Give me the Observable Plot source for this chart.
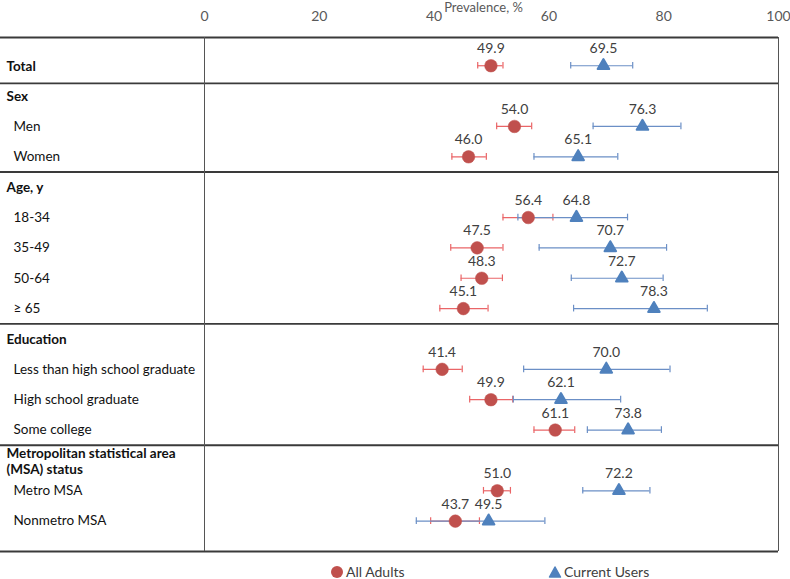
<!DOCTYPE html>
<html>
<head>
<meta charset="utf-8">
<script src="https://cdn.jsdelivr.net/npm/d3@7"></script>
<script src="https://cdn.jsdelivr.net/npm/@observablehq/plot@0.6"></script>
<style>
  html, body { margin: 0; padding: 0; background: #fff; }
  body { width: 790px; height: 579px; overflow: hidden; font-family: Lato, "Open Sans", sans-serif; }
  #legend { position: relative; width: 790px; height: 23px; font-size: 14px; color: #404040; }
  .item { position: absolute; top: 7px; display: flex; align-items: center; gap: 2px; }
  .item svg { display: block; }
</style>
</head>
<body>
<div id="chart"></div>
<div id="legend"></div>
<script>
// Row labels (level 0 = group header, 1 = subgroup)
const rowLabels = [
  "Total", "Sex", "Men", "Women", "Age, y", "18-34", "35-49", "50-64", "≥ 65",
  "Education", "Less than high school graduate", "High school graduate", "Some college",
  "Metropolitan statistical area\n(MSA) status", "Metro MSA", "Nonmetro MSA"
];
const rowLevel = [0, 0, 1, 1, 0, 1, 1, 1, 1, 0, 1, 1, 1, 0, 1, 1];

// All adults: estimate and 95% CI
const allAdults   = [49.9, null, 54.0, 46.0, null, 56.4, 47.5, 48.3, 45.1, null, 41.4, 49.9, 61.1, null, 51.0, 43.7];
const allAdultsLo = [47.6, null, 50.9, 43.1, null, 52.0, 42.9, 44.7, 41.0, null, 38.1, 46.2, 57.4, null, 48.6, 39.4];
const allAdultsHi = [52.0, null, 57.0, 49.1, null, 60.7, 52.0, 51.9, 49.4, null, 44.9, 53.7, 64.5, null, 53.3, 47.9];

// Current users: estimate and 95% CI
const currentUsers   = [69.5, null, 76.3, 65.1, null, 64.8, 70.7, 72.7, 78.3, null, 70.0, 62.1, 73.8, null, 72.2, 49.5];
const currentUsersLo = [63.8, null, 67.7, 57.4, null, 54.6, 58.3, 63.9, 64.3, null, 55.6, 53.8, 66.7, null, 65.9, 36.9];
const currentUsersHi = [74.6, null, 83.0, 72.0, null, 73.7, 80.5, 79.9, 87.6, null, 81.1, 72.5, 79.6, null, 77.6, 59.3];

const xTicks = [0, 20, 40, 60, 80, 100];
const seriesNames = ["All Adults", "Current Users"];

const RED = "#c0504d", RED_BAR = "#ea6567";
const BLUE = "#4f81bd", BLUE_BAR = "#6b8fc6";

const rows = rowLabels.map((label, i) => ({i, label, level: rowLevel[i]}));
const A = rows.filter(d => allAdults[d.i] != null).map(d => ({i: d.i, v: allAdults[d.i], lo: allAdultsLo[d.i], hi: allAdultsHi[d.i]}));
const U = rows.filter(d => currentUsers[d.i] != null).map(d => ({i: d.i, v: currentUsers[d.i], lo: currentUsersLo[d.i], hi: currentUsersHi[d.i]}));

const yTop = -0.93, yBottom = rowLabels.length;
const separators = [yTop, ...rows.filter(d => d.level === 0 && d.i > 0).map(d => d.i - (d.i === 1 ? 0.42 : 0.5)), yBottom];
const cap = 0.11;

function errorMarks(data, color) {
  return [
    Plot.ruleY(data, {y: "i", x1: "lo", x2: "hi", stroke: color, strokeWidth: 1.2}),
    Plot.ruleX(data, {x: "lo", y1: d => d.i - cap, y2: d => d.i + cap, stroke: color, strokeWidth: 1.2}),
    Plot.ruleX(data, {x: "hi", y1: d => d.i - cap, y2: d => d.i + cap, stroke: color, strokeWidth: 1.2})
  ];
}

const chart = Plot.plot({
  width: 790,
  height: 556,
  marginLeft: 0,
  marginRight: 12,
  marginTop: 37,
  marginBottom: 5,
  style: {fontFamily: "Lato, 'Open Sans', sans-serif", fontSize: "14px", background: "#fff"},
  x: {domain: [0, 100], range: [204, 778]},
  y: {domain: [yTop, yBottom], reverse: true, axis: null},
  marks: [
    Plot.axisX({anchor: "top", ticks: xTicks, tickSize: 0, tickPadding: 17, label: null, fill: "#595959", fontSize: 14}),
    Plot.text(["Prevalence, %"], {frameAnchor: "top", dx: 94, dy: -35, fill: "#595959", fontSize: 13}),
    Plot.ruleY(separators, {stroke: "#3a3a3a", strokeWidth: 1.8}),
    Plot.ruleX([0, 100], {y1: yTop, y2: yBottom, stroke: "#555", strokeWidth: 1}),
    Plot.text(rows.filter(d => d.level === 0), {frameAnchor: "left", y: "i", text: "label", textAnchor: "start", dx: 6, fontWeight: "bold", fill: "#111", fontSize: 13.5, lineHeight: 1.2}),
    Plot.text(rows.filter(d => d.level === 1), {frameAnchor: "left", y: "i", text: "label", textAnchor: "start", dx: 13, fill: "#111", fontSize: 13.5}),
    ...errorMarks(A, RED_BAR),
    ...errorMarks(U, BLUE_BAR),
    Plot.dot(A, {x: "v", y: "i", r: 6.3, fill: RED, stroke: RED, strokeWidth: 0.5}),
    Plot.dot(U, {x: "v", y: "i", r: 4.3, symbol: "triangle", fill: BLUE, stroke: BLUE, strokeWidth: 2, strokeLinejoin: "round"}),
    Plot.text(A, {x: "v", y: "i", text: d => d.v.toFixed(1), dy: -17, fill: "#404040", fontSize: 14}),
    Plot.text(U, {x: "v", y: "i", text: d => d.v.toFixed(1), dy: -17, fill: "#404040", fontSize: 14})
  ]
});
document.getElementById("chart").appendChild(chart);

// Legend
const legend = document.getElementById("legend");
const lefts = [330, 548];
seriesNames.forEach((name, k) => {
  const item = document.createElement("div");
  item.className = "item";
  item.style.left = lefts[k] + "px";
  const sym = k === 0
    ? `<svg width="14" height="14"><circle cx="7" cy="7" r="6" fill="${RED}"/></svg>`
    : `<svg width="14" height="14"><path d="M7 2 L12.5 12 L1.5 12 Z" fill="${BLUE}" stroke="${BLUE}" stroke-width="1.5" stroke-linejoin="round"/></svg>`;
  item.innerHTML = sym + `<span>${name}</span>`;
  legend.appendChild(item);
});
</script>
</body>
</html>
